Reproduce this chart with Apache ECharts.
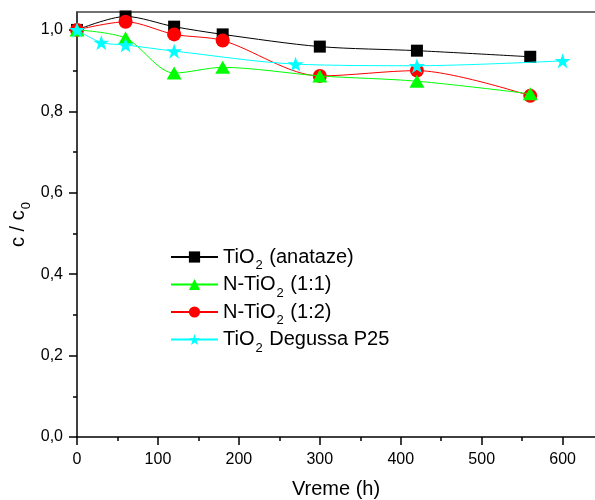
<!DOCTYPE html>
<html>
<head>
<meta charset="utf-8">
<script src="https://cdn.jsdelivr.net/npm/echarts@6/dist/echarts.min.js"></script>
<style>
html,body{margin:0;padding:0;background:#fff;}
#chart{width:595px;height:500px;}
</style>
</head>
<body>
<div id="chart"></div>
<script>
// ---- data ----
const timeAnatase = [0, 60, 120, 180, 300, 420, 560];
const valAnatase  = [1.0, 1.033, 1.008, 0.989, 0.959, 0.949, 0.934];

const timeN11 = [0, 60, 120, 180, 300, 420, 560];
const valN11  = [1.0, 0.98, 0.894, 0.908, 0.887, 0.874, 0.843];

const timeN12 = [0, 60, 120, 180, 300, 420, 560];
const valN12  = [1.0, 1.020, 0.989, 0.974, 0.887, 0.900, 0.838];

const timeP25 = [0, 30, 60, 120, 270, 420, 600];
const valP25  = [1.0, 0.969, 0.963, 0.948, 0.916, 0.912, 0.924];

const seriesNames = ['TiO2 (anataze)', 'N-TiO2 (1:1)', 'N-TiO2 (1:2)', 'TiO2 Degussa P25'];

const xMajorTicks = [0, 100, 200, 300, 400, 500, 600];
const xMinorTicks = [50, 150, 250, 350, 450, 550];
const yMajorTicks = [0, 0.2, 0.4, 0.6, 0.8, 1.0];
const yMinorTicks = [0.1, 0.3, 0.5, 0.7, 0.9];

const xTitle = 'Vreme (h)';
// ---- chart ----
const FONT = '"Liberation Sans", Arial, sans-serif';
const STAR = 'path://M50 0 L61.23 34.55 L97.55 34.55 L68.16 55.9 L79.39 90.45 L50 69.1 L20.61 90.45 L31.84 55.9 L2.45 34.55 L38.77 34.55 Z';

function pairs(xs, ys){ return xs.map((x,i)=>[x, ys[i]]); }

function legendLabel(name){
  const idx = name.indexOf('TiO2');
  const before = name.slice(0, idx + 3);
  const after = name.slice(idx + 4);
  return '{a|' + before + '}{s|2}{a|' + after + '}';
}

const rich = {
  a: {fontSize: 20, fontFamily: FONT, color: '#000'},
  s: {fontSize: 13, fontFamily: FONT, color: '#000', padding: [17, 1, 0, 1]}
};

const XMIN = 0, XMAX = 640, YMIN = 0, YMAX = 1.044;

const baseX = {type: 'value', min: XMIN, max: XMAX, gridIndex: 0};
const baseY = {type: 'value', min: YMIN, max: YMAX, gridIndex: 0};

const rowTops = [254, 281.5, 309, 336.5];

const chart = echarts.init(document.getElementById('chart'), null, {renderer: 'canvas'});

const seriesDefs = [
  {name: seriesNames[0], data: pairs(timeAnatase, valAnatase), color: '#000000', symbol: 'rect', size: 12, z: 2},
  {name: seriesNames[2], data: pairs(timeN12, valN12), color: '#ff0000', symbol: 'circle', size: 14, z: 3},
  {name: seriesNames[1], data: pairs(timeN11, valN11), color: '#00ff00', symbol: 'triangle', size: [15, 13], z: 4},
  {name: seriesNames[3], data: pairs(timeP25, valP25), color: '#00ffff', symbol: STAR, size: 16, z: 5}
];

const option = {
  animation: false,
  backgroundColor: '#fff',
  textStyle: {fontFamily: FONT},
  grid: {left: 77, right: 0, top: 12, bottom: 63, containLabel: false, outerBoundsMode: 'none'},
  xAxis: [
    Object.assign({}, baseX, {
      position: 'bottom',
      name: xTitle, nameLocation: 'middle', nameGap: 42,
      nameTextStyle: {fontSize: 20, fontFamily: FONT, color: '#000'},
      axisLine: {show: true, onZero: false, lineStyle: {color: '#000', width: 1.5}},
      axisTick: {show: true, inside: false, length: 8, customValues: xMajorTicks, lineStyle: {color: '#000', width: 1.5}},
      axisLabel: {show: true, customValues: xMajorTicks, margin: 15, fontSize: 16, fontFamily: FONT, color: '#000'},
      splitLine: {show: false}
    }),
    Object.assign({}, baseX, {
      position: 'bottom',
      axisLine: {show: false, onZero: false},
      axisTick: {show: true, inside: false, length: 4, customValues: xMinorTicks, lineStyle: {color: '#000', width: 1.5}},
      axisLabel: {show: false},
      splitLine: {show: false}
    }),
    Object.assign({}, baseX, {
      position: 'top',
      axisLine: {show: true, onZero: false, lineStyle: {color: '#444', width: 1.5}},
      axisTick: {show: false},
      axisLabel: {show: false},
      splitLine: {show: false}
    })
  ],
  yAxis: [
    Object.assign({}, baseY, {
      position: 'left',
      name: '{a|c / c}{s|0}', nameLocation: 'middle', nameGap: 44, nameRotate: 90,
      nameMoveOverlap: false,
      nameTextStyle: {
        fontSize: 20, fontFamily: FONT, color: '#000',
        rich: {
          a: {fontSize: 20, fontFamily: FONT, color: '#000'},
          s: {fontSize: 13, fontFamily: FONT, color: '#000', padding: [16, 0, 0, 1]}
        }
      },
      axisLine: {show: true, onZero: false, lineStyle: {color: '#000', width: 1.5}},
      axisTick: {show: true, inside: false, length: 8, customValues: yMajorTicks, lineStyle: {color: '#000', width: 1.5}},
      axisLabel: {show: true, customValues: yMajorTicks, margin: 14, fontSize: 16, fontFamily: FONT, color: '#000',
        formatter: v => v.toFixed(1).replace('.', ',')},
      splitLine: {show: false}
    }),
    Object.assign({}, baseY, {
      position: 'left',
      axisLine: {show: false, onZero: false},
      axisTick: {show: true, inside: false, length: 4, customValues: yMinorTicks, lineStyle: {color: '#000', width: 1.5}},
      axisLabel: {show: false},
      splitLine: {show: false}
    })
  ],
  legend: [0, 1, 2, 3].map(i => ({
    data: [seriesNames[i]],
    left: 170,
    top: rowTops[i] - 7,
    padding: 0,
    itemWidth: 47,
    itemHeight: 14,
    itemGap: 5,
    selectedMode: false,
    formatter: legendLabel,
    textStyle: {fontSize: 20, fontFamily: FONT, color: '#000', rich: rich}
  })),
  series: seriesDefs.map(d => ({
    name: d.name,
    type: 'line',
    xAxisIndex: 0,
    yAxisIndex: 0,
    data: d.data,
    smooth: 0.3,
    symbol: d.symbol,
    symbolSize: d.size,
    symbolKeepAspect: true,
    showAllSymbol: true,
    z: d.z,
    lineStyle: {color: d.color, width: 1},
    itemStyle: {color: d.color, borderWidth: 0},
    emphasis: {disabled: true}
  }))
};

chart.setOption(option);
</script>
</body>
</html>
